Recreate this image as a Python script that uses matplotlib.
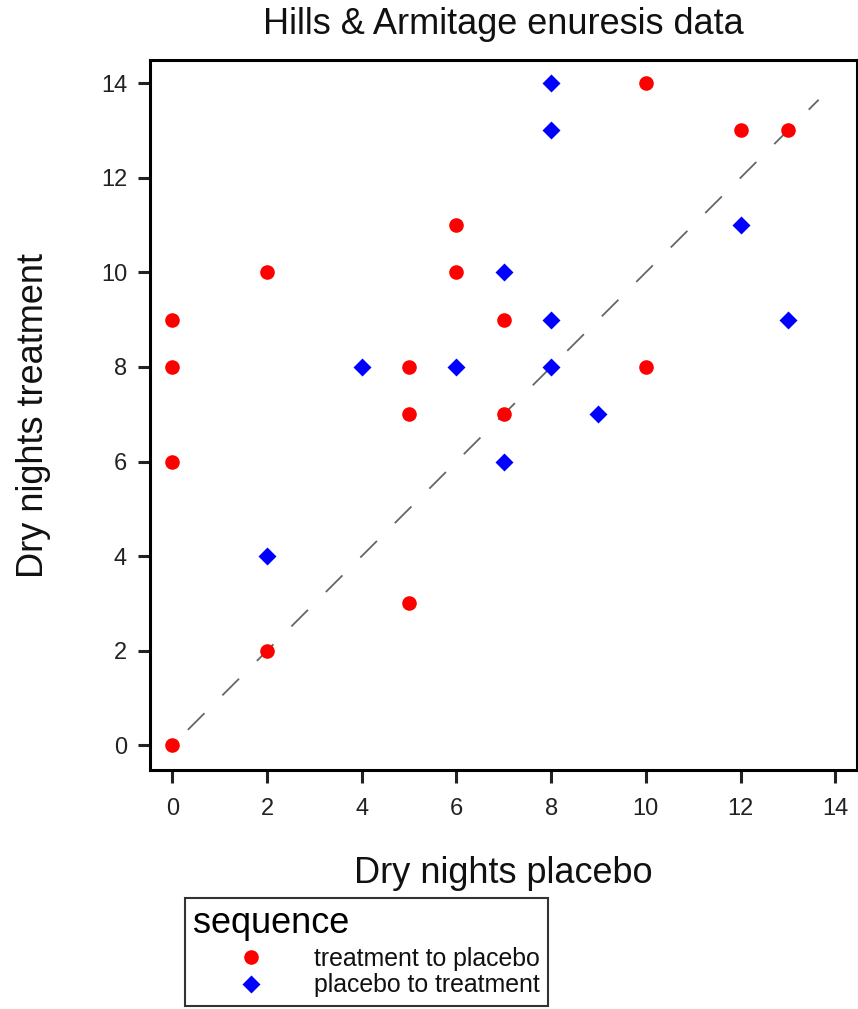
import matplotlib
matplotlib.use("Agg")
import matplotlib.pyplot as plt

plt.rcParams['font.family'] = ['Liberation Sans', 'DejaVu Sans']

# treatment to placebo (red circles)
tp_placebo = [0, 0, 0, 0, 2, 2, 5, 5, 5, 6, 6, 7, 7, 10, 10, 12, 13]
tp_treat = [0, 6, 8, 9, 2, 10, 3, 7, 8, 10, 11, 7, 9, 8, 14, 13, 13]
# placebo to treatment (blue diamonds)
pt_placebo = [2, 4, 6, 7, 7, 8, 8, 8, 8, 9, 12, 13]
pt_treat = [4, 8, 8, 6, 10, 8, 9, 13, 14, 7, 11, 9]

ticks = [0, 2, 4, 6, 8, 10, 12, 14]
ref_line = [0.33, 13.65]

fig = plt.figure(figsize=(8.58, 10.09), dpi=100)
ax = fig.add_axes([150/858, 1-770/1009, 707/858, 710/1009])

ax.plot(ref_line, ref_line, color='#666666', lw=1.3, dashes=(13, 14), zorder=1)
ax.plot(tp_placebo, tp_treat, 'o', color='red', ms=10.5, mec='none',
        label='treatment to placebo', zorder=3)
ax.plot(pt_placebo, pt_treat, 'D', color='blue', ms=9.5, mec='none',
        label='placebo to treatment', zorder=3)

ax.set_xlim(-0.47, 14.46)
ax.set_ylim(-0.52, 14.49)
ax.set_xticks(ticks)
ax.set_yticks(ticks)
ax.tick_params(length=9, width=2.2, labelsize=17, color='#222222',
               labelcolor='#222222')
ax.tick_params(axis='x', pad=11)
ax.tick_params(axis='y', pad=7.5)
for s in ax.spines.values():
    s.set_linewidth(2.2)

ax.set_xlabel('Dry nights placebo', fontsize=26, labelpad=26, color='#111111')
ax.set_ylabel('Dry nights treatment', fontsize=26, labelpad=36, color='#111111')
fig.text(503.5/858, 1-24/1009, 'Hills & Armitage enuresis data',
         fontsize=26, ha='center', va='center', color='#111111')

leg = fig.legend(loc='upper left', bbox_to_anchor=(185/858, 1-898/1009),
                 title='sequence', title_fontsize=26, fontsize=17.9,
                 alignment='left', frameon=True, fancybox=False,
                 handlelength=4.6, handletextpad=0.26, labelspacing=0.1,
                 borderpad=0.34, borderaxespad=0)
# a bit more room between the title and the entries
leg._legend_box.sep = 4
leg.get_frame().set_edgecolor('black')
leg.get_frame().set_linewidth(1.5)
for t in leg.get_texts():
    t.set_color('#111111')

fig.savefig('out.png', dpi=100)
